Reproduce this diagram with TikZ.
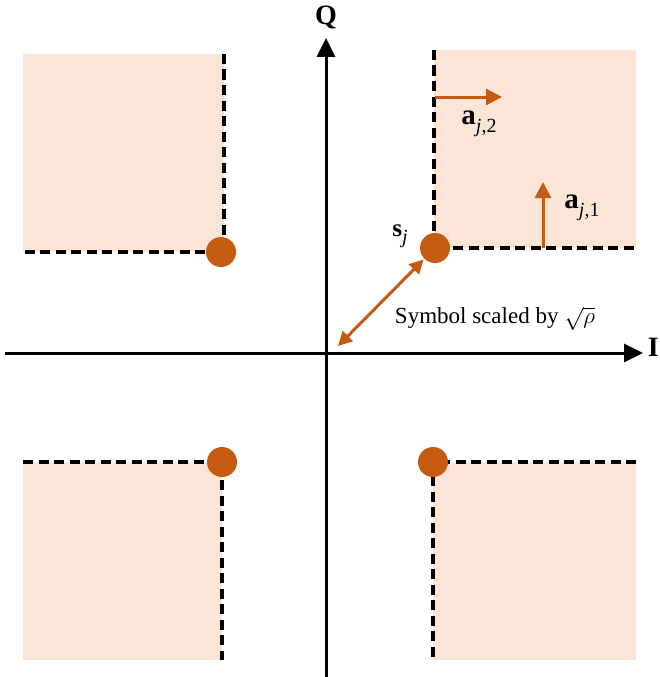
\RequirePackage{fix-cm}
\documentclass[tikz,border=0pt]{standalone}
\usepackage{fontspec}
\setmainfont{Liberation Serif}
\usetikzlibrary{arrows.meta}
\DeclareMathSizes{23}{23}{17}{13}
\definecolor{peach}{HTML}{FBE5D6}
\definecolor{rust}{HTML}{C55A11}
\newcommand{\vlab}[3]{\fontsize{#1}{#1}\selectfont\textbf{#2}\raisebox{-0.28em}{\fontsize{20}{20}\selectfont #3}}
\tikzset{
  region/.style={fill=peach, draw=none},
  bound/.style={line width=3.4pt, dash pattern=on 10pt off 5.5pt},
  dot/.style={circle, fill=rust, minimum size=30pt, inner sep=0pt},
  axis/.style={line width=3pt, -{Triangle[length=19pt,width=18pt]}},
  vec/.style={rust, line width=3pt, -{Triangle[length=16pt,width=16pt]}},
  dvec/.style={rust, line width=3pt, {Triangle[length=14pt,width=14pt]}-{Triangle[length=14pt,width=14pt]}},
  lab/.style={inner sep=0pt},
  txt/.style={inner sep=0pt, font=\fontsize{23}{27}\selectfont},
  axlab/.style={inner sep=0pt, font=\fontsize{28}{32}\selectfont\bfseries}
}
\begin{document}
\begin{tikzpicture}[x=1pt,y=-1pt]
\useasboundingbox (0,0) rectangle (659,677);
% regions
\fill[region] (23,54) rectangle (224,252);
\fill[region] (434,50) rectangle (636,248);
\fill[region] (23,462) rectangle (222,660);
\fill[region] (433,462) rectangle (636,660);
% boundaries
\draw[bound] (224,54) -- (224,252) -- (23,252);
\draw[bound] (434,50) -- (434,248) -- (636,248);
\draw[bound] (23,462) -- (222,462) -- (222,660);
\draw[bound] (636,462) -- (433,462) -- (433,660);
% axes
\coordinate (ybot) at (326,677);
\coordinate (ytop) at (326,38);
\coordinate (xl) at (5,353);
\coordinate (xr) at (643,353);
\draw[axis] (ybot) -- (ytop);
\draw[axis] (xl) -- (xr);
\node[axlab] (Q) at (326,18) {Q};
\node[axlab, anchor=east] (I) at (659,347) {I};
% dots
\node[dot] (p1) at (221,252) {};
\node[dot] (s) at (435,248) {};
\node[dot] (p3) at (222,462) {};
\node[dot] (p4) at (433,462) {};
% vectors
\coordinate (a2s) at (435,97);
\coordinate (a2e) at (502,97);
\draw[vec] (a2s) -- (a2e);
\coordinate (a1s) at (543,248);
\coordinate (a1e) at (543,182);
\draw[vec] (a1s) -- (a1e);
\node[lab] (la2) at (479,124) {\vlab{29}{a}{\itshape j\upshape,2}};
\node[lab] (la1) at (582,208) {\vlab{29}{a}{\itshape j\upshape,1}};
\node[lab] (ls) at (400,236) {\vlab{25}{s}{\itshape j}};
% scale arrow
\coordinate (o2) at (338,346);
\draw[dvec, shorten >=1pt] (o2) -- (s);
\node[txt, anchor=base] (sym) at (495,323) {Symbol scaled by $\sqrt{\rho}$};
\end{tikzpicture}
\end{document}
